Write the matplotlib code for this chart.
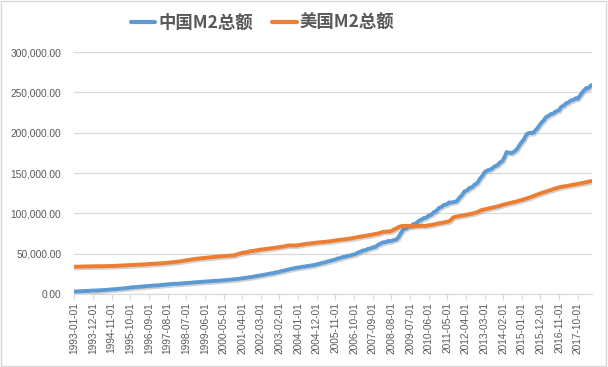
import matplotlib
matplotlib.use('Agg')
import matplotlib.pyplot as plt
import matplotlib.patheffects as pe
import pandas as pd

plt.rcParams['font.family'] = ['Liberation Sans', 'DejaVu Sans']

# 月度数据 1993-01 ~ 2018-06 (单位: 亿美元)
cn_m2 = [
    3000, 3100, 3200, 3300, 3350, 3450, 3550, 3650, 3800, 3900, 4050, 4300,
    4250, 4400, 4500, 4600, 4700, 4850, 4950, 5100, 5300, 5400, 5600, 5900,
    5900, 6100, 6300, 6500, 6700, 6900, 7100, 7400, 7700, 7900, 8200, 8500,
    8500, 8700, 8900, 9100, 9300, 9500, 9700, 9900, 10100, 10200, 10300, 10600,
    10500, 10700, 10900, 11000, 11200, 11400, 11600, 11800, 12100, 12200, 12400, 12700,
    12600, 12800, 12900, 13000, 13200, 13400, 13500, 13700, 13900, 14000, 14200, 14500,
    14500, 14700, 14900, 15000, 15200, 15400, 15500, 15700, 15900, 16000, 16100, 16400,
    16300, 16500, 16700, 16800, 17000, 17200, 17300, 17500, 17800, 17900, 18100, 18500,
    18500, 18800, 19200, 19300, 19600, 20000, 20200, 20500, 21000, 21200, 21600, 22200,
    22300, 22700, 23200, 23400, 23800, 24400, 24600, 25000, 25500, 25700, 26200, 26900,
    27100, 27500, 28300, 28600, 29000, 29900, 30200, 30700, 31300, 31600, 32000, 32600,
    32700, 33000, 33600, 33800, 34000, 34600, 34700, 35000, 35600, 35700, 36100, 36900,
    37300, 37600, 38500, 38800, 39200, 40300, 40500, 41000, 41900, 42200, 42800, 43800,
    44200, 44700, 45600, 46000, 46300, 47300, 47500, 47900, 48800, 49000, 49700, 51000,
    52000, 52500, 53800, 54200, 54600, 55800, 56200, 56700, 57900, 58000, 59000, 60700,
    62000, 62800, 64000, 64300, 64500, 65800, 65500, 65700, 66600, 67200, 67800, 69600,
    73500, 76500, 80000, 80800, 81600, 83500, 84200, 84900, 86700, 87000, 88500, 90200,
    91500, 92500, 94000, 94500, 95200, 97300, 97800, 99000, 101500, 102200, 104000, 106500,
    107500, 108500, 110500, 110800, 111400, 113500, 113300, 113800, 114200, 114500, 116000, 119000,
    121000, 123500, 127000, 128000, 128800, 131500, 132000, 133000, 135500, 136500, 138500, 142000,
    145000, 147000, 151000, 152500, 153500, 154000, 155000, 156500, 158500, 159000, 160500, 163000,
    164000, 166500, 171000, 176000, 175500, 175000, 174800, 176000, 177500, 179500, 182500, 186000,
    188500, 191000, 195000, 198500, 199500, 200000, 199500, 200500, 203000, 205000, 208000, 211000,
    213500, 215500, 219000, 220000, 221500, 223000, 223500, 224500, 226500, 227000, 228000, 231500,
    233000, 234000, 236500, 237000, 238500, 240000, 240500, 241500, 243000, 242000, 245000, 248000,
    251000, 253000, 255500, 255000, 257000, 259000,
]

us_m2 = [
    33800, 33800, 33900, 33900, 34000, 34100, 34100, 34200, 34200, 34300, 34300, 34400,
    34400, 34400, 34500, 34500, 34500, 34500, 34600, 34600, 34600, 34700, 34700, 34800,
    34800, 34900, 35000, 35100, 35200, 35300, 35500, 35600, 35700, 35900, 36000, 36100,
    36200, 36300, 36400, 36500, 36600, 36700, 36800, 37000, 37100, 37200, 37300, 37500,
    37700, 37800, 37900, 38100, 38200, 38300, 38500, 38700, 38900, 39100, 39300, 39500,
    39800, 40100, 40400, 40700, 41100, 41400, 41700, 42000, 42400, 42800, 43100, 43400,
    43700, 43900, 44100, 44300, 44500, 44800, 45000, 45200, 45400, 45600, 45900, 46300,
    46400, 46500, 46700, 46900, 47000, 47100, 47200, 47400, 47600, 47800, 48000, 48200,
    49200, 49700, 50300, 51000, 51300, 51700, 52100, 52400, 53300, 53200, 53600, 54000,
    54300, 54700, 55100, 55300, 55500, 55700, 56000, 56400, 56700, 57000, 57300, 57600,
    57900, 58200, 58400, 58700, 59100, 59600, 60000, 60300, 60200, 60100, 60100, 60200,
    60500, 60800, 61200, 61600, 62000, 62300, 62400, 62600, 62900, 63100, 63400, 63700,
    63900, 64100, 64300, 64400, 64600, 64800, 65100, 65400, 65800, 66100, 66400, 66700,
    67100, 67400, 67600, 67800, 68000, 68300, 68500, 68800, 69300, 69700, 70100, 70500,
    70900, 71200, 71600, 72000, 72300, 72600, 72900, 73300, 73800, 74200, 74600, 75000,
    75500, 76300, 77000, 77200, 77300, 77500, 77800, 77900, 79500, 80500, 81200, 82800,
    83600, 84200, 84500, 84200, 84600, 84500, 84000, 84100, 84000, 84100, 84300, 84400,
    84300, 84600, 84400, 84300, 84800, 85200, 85400, 85800, 86200, 86800, 87300, 87600,
    88000, 88400, 88700, 89200, 89600, 90200, 91500, 94000, 95400, 95800, 96200, 96600,
    97000, 97500, 97800, 98100, 98500, 98900, 99300, 99800, 100500, 101300, 101800, 102900,
    104000, 104500, 105000, 105500, 106000, 106400, 106800, 107300, 107800, 108300, 108900, 109400,
    110000, 110800, 111300, 111800, 112300, 112800, 113300, 113800, 114300, 114800, 115400, 116100,
    116700, 117300, 117900, 118600, 119300, 120100, 120900, 121700, 122500, 123300, 124100, 124900,
    125600, 126300, 126900, 127600, 128200, 128900, 129700, 130400, 131000, 131600, 132300, 132800,
    133200, 133500, 133800, 134100, 134500, 134900, 135300, 135700, 136100, 136500, 136900, 137300,
    137700, 138200, 138700, 139200, 139600, 140000,
]

dates = pd.date_range('1993-01-01', periods=len(cn_m2), freq='MS').strftime('%Y-%m-%d').tolist()
tick_step = 11
y_ticks = [0, 50000, 100000, 150000, 200000, 250000, 300000]

blue = '#5B9BD5'
orange = '#ED7D31'
grid_c = '#D9D9D9'
text_c = '#595959'

fig = plt.figure(figsize=(6.08, 3.67), dpi=100)
ax = fig.add_axes([0.121, 0.199, 0.853, 0.659])

x = list(range(len(dates)))
shadow = [pe.SimpleLineShadow(offset=(0.8, -1.2), shadow_color='#7f7f7f', alpha=0.35), pe.Normal()]
ax.plot(x, cn_m2, color=blue, lw=2.8, label='中国M2总额', path_effects=shadow, solid_capstyle='round')
ax.plot(x, us_m2, color=orange, lw=2.8, label='美国M2总额', path_effects=shadow, solid_capstyle='round')

ax.set_xlim(-0.5, len(dates) - 0.5)
ax.set_ylim(0, 300000)
ax.set_yticks(y_ticks)
ax.set_yticklabels(['{:,.2f}'.format(v) for v in y_ticks])
ax.yaxis.grid(True, color=grid_c, lw=0.9)
ax.set_axisbelow(True)

xt = x[::tick_step]
ax.set_xticks(xt)
ax.set_xticklabels([dates[i] for i in xt], rotation=90)

for s in ['top', 'right', 'left']:
    ax.spines[s].set_visible(False)
ax.spines['bottom'].set_color(grid_c)
ax.tick_params(axis='y', length=0, pad=9, labelsize=7.3, labelcolor=text_c)
ax.tick_params(axis='x', length=4, width=0.8, color=grid_c, pad=2, labelsize=7.3, labelcolor=text_c)

leg = fig.legend(loc='upper center', bbox_to_anchor=(0.432, 1.005), ncol=2, frameon=False,
                 prop={'family': ['Noto Sans CJK SC', 'DejaVu Sans'], 'size': 12.5, 'weight': 'bold'},
                 handlelength=1.4, handletextpad=0.2, columnspacing=1.1)
for t in leg.get_texts():
    t.set_color(text_c)
for h in leg.get_lines():
    h.set_linewidth(3)
    h.set_path_effects([])

fig.patches.append(plt.Rectangle((0.002, 0.003), 0.994, 0.994, transform=fig.transFigure,
                                 fill=False, edgecolor=grid_c, lw=1))

fig.savefig('out.png', dpi=100)
